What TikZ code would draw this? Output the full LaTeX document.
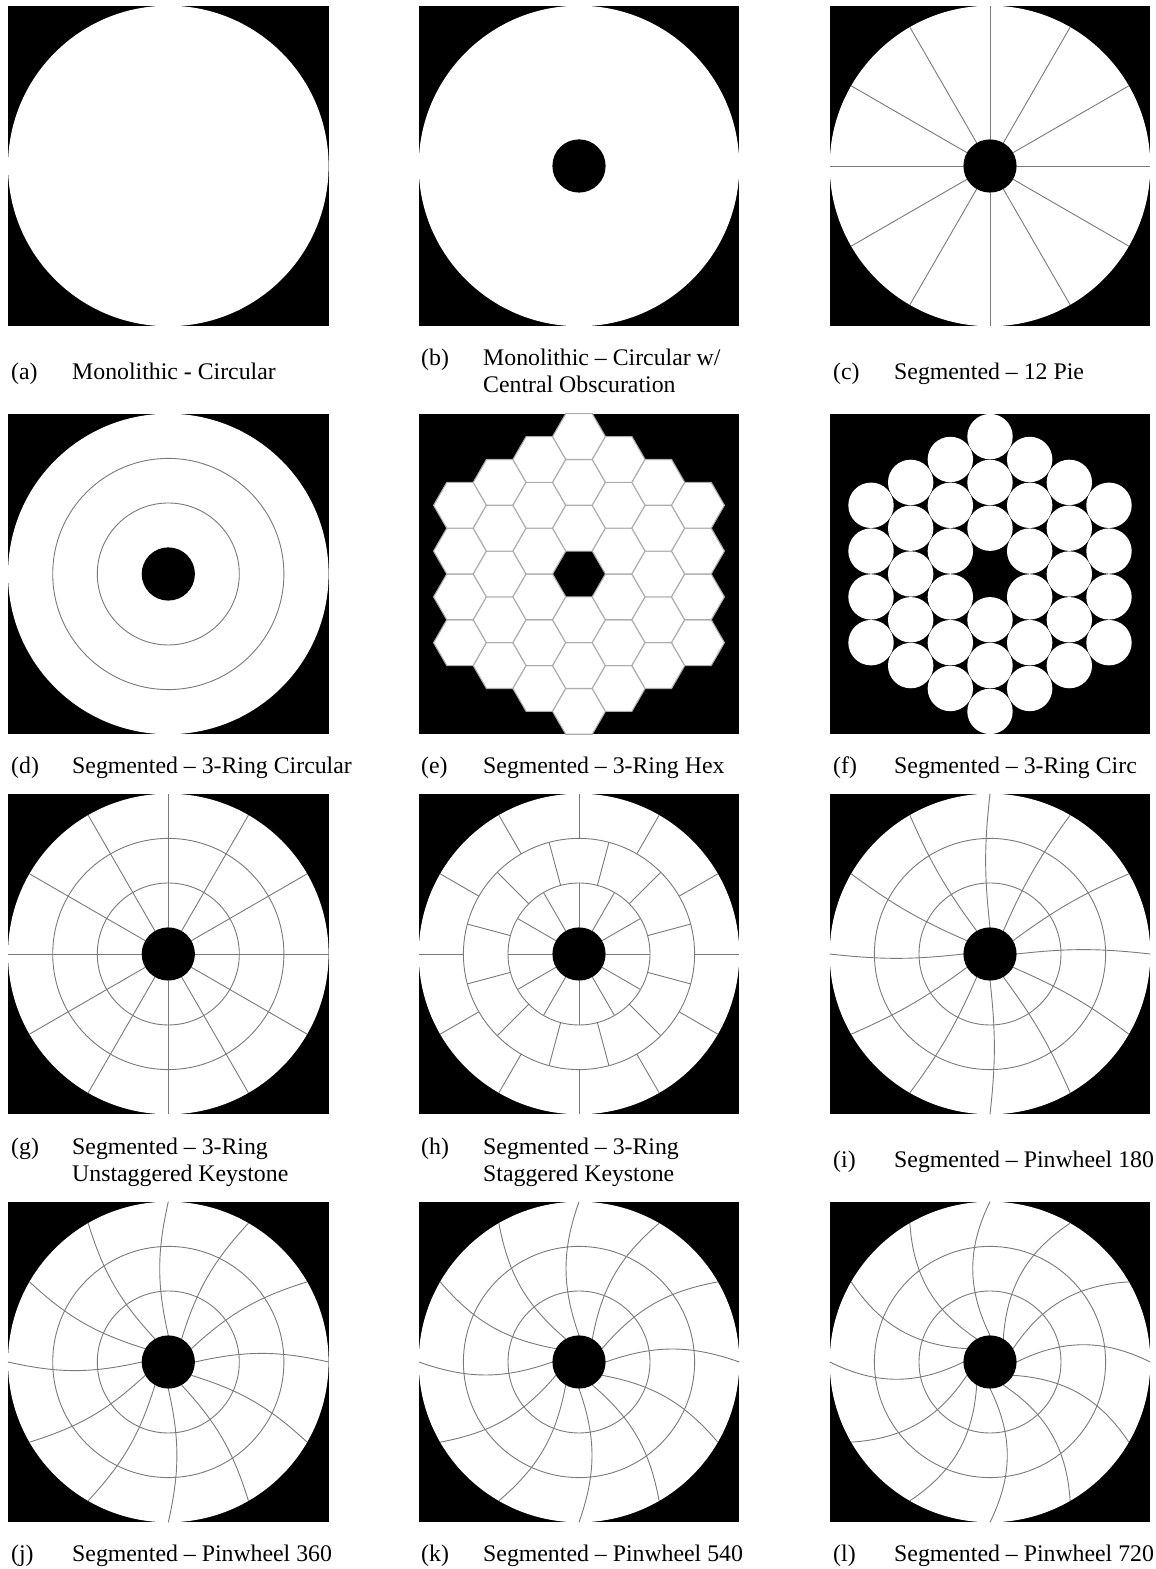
\documentclass[tikz,border=0pt]{standalone}
\usepackage{fontspec}
\setmainfont{Liberation Serif}

\tikzset{
	panelbg/.style={fill=black},
	discface/.style={fill=white},
	hubhole/.style={fill=black},
	seam/.style={black!52, line width=0.9pt},
	hexcell/.style={fill=white, draw=black!32, line width=1.1pt, line join=miter},
	circcell/.style={fill=white},
	caplabel/.style={anchor=base west, inner sep=0pt, align=left, font=\fontsize{23.8}{27.6}\selectfont}
}

% Sizes of the aperture, in reference pixels
\newcommand{\outerrad}{160.3}
\newcommand{\hubrad}{26.6}
\newcommand{\basepanel}{
	\fill[panelbg] (-\outerrad,-\outerrad) rectangle (\outerrad,\outerrad);
	\fill[discface] (0,0) circle (\outerrad);
}
\newcommand{\ringlines}{
	\draw[seam] (0,0) circle (71);
	\draw[seam] (0,0) circle (115.6);
}
\newcommand{\hubdot}{\fill[hubhole] (0,0) circle (\hubrad);}
\newcommand{\pinwheel}[1]{
	\basepanel
	\ringlines
	\foreach \ang in {0,30,...,330}
		\draw[seam] (\ang:\hubrad) to[bend left=#1] (\ang:\outerrad);
	\hubdot
}
% Column / half-row indices of the 36 cells
\newcommand{\cellgrid}{-3/{-3,-1,1,3}, -2/{-4,-2,0,2,4}, -1/{-5,-3,-1,1,3,5}, 0/{-6,-4,-2,2,4,6}, 1/{-5,-3,-1,1,3,5}, 2/{-4,-2,0,2,4}, 3/{-3,-1,1,3}}

\begin{document}
\begin{tikzpicture}[x=1pt, y=1pt]
	\useasboundingbox (0,0) rectangle (1156,1569);
	\fill[white] (0,0) rectangle (1156,1569);

	% (a) Monolithic circular
	\begin{scope}[shift={(168.3,1403)}]
		\basepanel
	\end{scope}
	\node[caplabel] (laba) at (11,1189) {(a)};
	\node[caplabel] (capa) at (72,1189) {Monolithic - Circular};

	% (b) Central obscuration
	\begin{scope}[shift={(579,1403)}]
		\basepanel
		\hubdot
	\end{scope}
	\node[caplabel] (labb) at (421,1203) {(b)};
	\node[caplabel] (capb) at (483,1176) {Monolithic -- Circular w/\\Central Obscuration};

	% (c) 12 pie
	\begin{scope}[shift={(990,1403)}]
		\basepanel
		\foreach \ang in {0,30,...,330}
			\draw[seam] (\ang:\hubrad) -- (\ang:\outerrad);
		\hubdot
	\end{scope}
	\node[caplabel] (labc) at (833,1189) {(c)};
	\node[caplabel] (capc) at (894,1189) {Segmented -- 12 Pie};

	% (d) 3-ring circular
	\begin{scope}[shift={(168.3,995)}]
		\basepanel
		\ringlines
		\hubdot
	\end{scope}
	\node[caplabel] (labd) at (11,795) {(d)};
	\node[caplabel] (capd) at (72,795) {Segmented -- 3-Ring Circular};

	% (e) 3-ring hex
	\begin{scope}[shift={(579,995)}]
		\fill[panelbg] (-\outerrad,-\outerrad) rectangle (\outerrad,\outerrad);
		\foreach \col/\rowlist in \cellgrid
			\foreach \row in \rowlist
				\draw[hexcell, shift={(\col*39.66,\row*22.9)}] (0:26.44) -- (60:26.44) -- (120:26.44) -- (180:26.44) -- (240:26.44) -- (300:26.44) -- cycle;
	\end{scope}
	\node[caplabel] (labe) at (421,795) {(e)};
	\node[caplabel] (cape) at (483,795) {Segmented -- 3-Ring Hex};

	% (f) 3-ring circ
	\begin{scope}[shift={(990,995)}]
		\fill[panelbg] (-\outerrad,-\outerrad) rectangle (\outerrad,\outerrad);
		\foreach \col/\rowlist in \cellgrid
			\foreach \row in \rowlist
				\fill[circcell] (\col*39.66,\row*22.9) circle (22.7);
	\end{scope}
	\node[caplabel] (labf) at (833,795) {(f)};
	\node[caplabel] (capf) at (894,795) {Segmented -- 3-Ring Circ};

	% (g) Unstaggered keystone
	\begin{scope}[shift={(168.3,615)}]
		\basepanel
		\ringlines
		\foreach \ang in {0,30,...,330}
			\draw[seam] (\ang:\hubrad) -- (\ang:\outerrad);
		\hubdot
	\end{scope}
	\node[caplabel] (labg) at (11,414) {(g)};
	\node[caplabel] (capg) at (72,387) {Segmented -- 3-Ring\\Unstaggered Keystone};

	% (h) Staggered keystone
	\begin{scope}[shift={(579,615)}]
		\basepanel
		\ringlines
		\foreach \ang in {0,30,...,330} {
			\draw[seam] (\ang:\hubrad) -- (\ang:71);
			\draw[seam] (\ang+15:71) -- (\ang+15:115.6);
			\draw[seam] (\ang:115.6) -- (\ang:\outerrad);
		}
		\hubdot
	\end{scope}
	\node[caplabel] (labh) at (421,414) {(h)};
	\node[caplabel] (caph) at (483,387) {Segmented -- 3-Ring\\Staggered Keystone};

	% (i) Pinwheel 180
	\begin{scope}[shift={(990,615)}]
		\pinwheel{6.4}
	\end{scope}
	\node[caplabel] (labi) at (833,401) {(i)};
	\node[caplabel] (capi) at (894,401) {Segmented -- Pinwheel 180};

	% (j) Pinwheel 360
	\begin{scope}[shift={(168.3,207)}]
		\pinwheel{12.7}
	\end{scope}
	\node[caplabel] (labj) at (11,7) {(j)};
	\node[caplabel] (capj) at (72,7) {Segmented -- Pinwheel 360};

	% (k) Pinwheel 540
	\begin{scope}[shift={(579,207)}]
		\pinwheel{19.4}
	\end{scope}
	\node[caplabel] (labk) at (421,7) {(k)};
	\node[caplabel] (capk) at (483,7) {Segmented -- Pinwheel 540};

	% (l) Pinwheel 720
	\begin{scope}[shift={(990,207)}]
		\pinwheel{26.2}
	\end{scope}
	\node[caplabel] (labl) at (833,7) {(l)};
	\node[caplabel] (capl) at (894,7) {Segmented -- Pinwheel 720};
\end{tikzpicture}
\end{document}
